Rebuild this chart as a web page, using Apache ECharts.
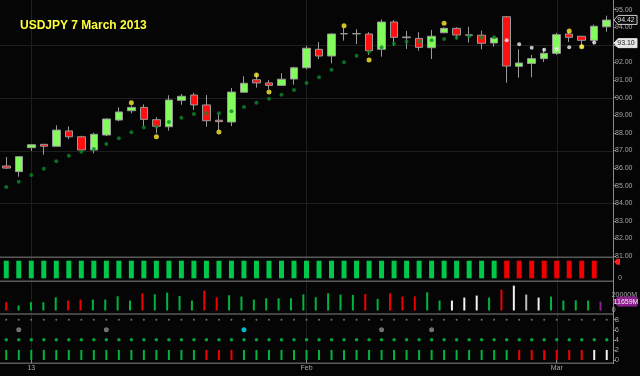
<!DOCTYPE html>
<html>
<head>
<meta charset="utf-8">
<script src="https://cdn.jsdelivr.net/npm/echarts/dist/echarts.min.js"></script>
<style>
html, body { margin: 0; padding: 0; background: #050505; }
#main { width: 640px; height: 376px; }
</style>
</head>
<body>
<div id="main"></div>
<script>
var dates = ['2012-12-28','2012-12-31',
    '2013-01-02','2013-01-03','2013-01-04','2013-01-07','2013-01-08','2013-01-09','2013-01-10','2013-01-11',
    '2013-01-14','2013-01-15','2013-01-16','2013-01-17','2013-01-18','2013-01-21','2013-01-22','2013-01-23',
    '2013-01-24','2013-01-25','2013-01-28','2013-01-29','2013-01-30','2013-01-31',
    '2013-02-01','2013-02-04','2013-02-05','2013-02-06','2013-02-07','2013-02-08','2013-02-11','2013-02-12',
    '2013-02-13','2013-02-14','2013-02-15','2013-02-18','2013-02-19','2013-02-20','2013-02-21','2013-02-22',
    '2013-02-25','2013-02-26','2013-02-27','2013-02-28',
    '2013-03-01','2013-03-04','2013-03-05','2013-03-06','2013-03-07'];

// x axis labels
var dateLabels = { '2013-01-02': '13', '2013-02-01': 'Feb', '2013-03-01': 'Mar' };

var opens  = [86.12, 85.80, 87.16, 87.35, 87.24, 88.11, 87.78, 87.03, 87.88, 88.73,
              89.26, 89.45, 88.75, 88.35, 89.85, 90.15, 89.59, 88.72, 88.62, 90.31,
              91.02, 90.84, 90.70, 91.06, 91.70, 92.75, 92.37, 93.64, 93.63, 93.62,
              92.75, 94.30, 93.45, 93.37, 92.84, 93.69, 93.94, 93.57, 93.55, 93.11,
              94.60, 91.78, 91.95, 92.22, 92.52, 93.62, 93.49, 93.26, 94.03];
var closes = [86.00, 86.65, 87.33, 87.24, 88.16, 87.78, 87.03, 87.92, 88.79, 89.19,
              89.45, 88.77, 88.38, 89.87, 90.08, 89.59, 88.69, 88.64, 90.32, 90.82,
              90.84, 90.70, 91.05, 91.70, 92.81, 92.37, 93.62, 93.63, 93.64, 92.67,
              94.30, 93.43, 93.41, 92.86, 93.49, 93.94, 93.56, 93.55, 93.09, 93.39,
              91.80, 91.97, 92.22, 92.52, 93.58, 93.43, 93.26, 94.06, 94.41];
var lows   = [85.95, 85.51, 86.97, 86.76, 87.20, 87.64, 86.95, 86.84, 87.82, 88.66,
              89.11, 88.35, 87.98, 88.13, 89.60, 89.30, 88.35, 88.16, 88.39, 90.28,
              90.57, 90.48, 90.66, 90.74, 91.61, 92.20, 91.95, 93.24, 93.05, 92.43,
              92.33, 92.94, 92.77, 92.67, 92.20, 93.67, 93.32, 93.13, 92.75, 92.90,
              90.85, 91.14, 91.16, 92.03, 92.43, 93.16, 92.99, 93.03, 93.75];
var highs  = [86.63, 86.67, 87.35, 87.37, 88.43, 88.37, 87.84, 88.01, 88.83, 89.45,
              89.55, 89.62, 88.89, 90.14, 90.21, 90.27, 90.15, 89.11, 90.55, 91.22,
              91.39, 91.00, 91.39, 91.76, 92.95, 93.16, 93.66, 93.98, 93.89, 93.72,
              94.45, 94.41, 93.79, 93.72, 93.85, 94.00, 94.00, 94.03, 93.81, 93.47,
              94.64, 92.75, 92.43, 92.81, 93.68, 93.75, 93.50, 94.15, 94.66];

// stop-and-reverse dots: green below price, white above
var sarLong  = [84.93, 85.23, 85.61, 85.97, 86.39, 86.70, 86.93, 87.09, 87.37, 87.69,
                88.03, 88.30, 88.35, 88.62, 88.86, 89.07, 89.11, 89.11, 89.23, 89.47,
                89.72, 89.94, 90.17, 90.44, 90.84, 91.16, 91.59, 92.01, 92.39, 92.61,
                92.86, 93.07, 93.18, 93.20, 93.26, 93.34, 93.41, 93.49, 93.41, 93.43,
                '-', '-', '-', '-', '-', '-', '-', '-', '-'];
var sarShort = ['-', '-', '-', '-', '-', '-', '-', '-', '-', '-',
                '-', '-', '-', '-', '-', '-', '-', '-', '-', '-',
                '-', '-', '-', '-', '-', '-', '-', '-', '-', '-',
                '-', '-', '-', '-', '-', '-', '-', '-', '-', '-',
                93.26, 93.03, 92.84, 92.73, 92.77, 92.86, 92.91, 93.13, '-'];
// yellow markers [day index, price]
var fractals = [[10, 89.72], [12, 87.78], [17, 88.05], [20, 91.29], [21, 90.32],
                [27, 94.09], [29, 92.14], [35, 94.23], [45, 93.79], [46, 92.90]];

var lastPrice = 94.42;
var refPrice = 93.10;
var gridPrices = [84, 87, 90, 93];

// trend panel: 1 up, -1 down
var trend = [1, 1, 1, 1, 1, 1, 1, 1, 1, 1, 1, 1, 1, 1, 1, 1, 1, 1, 1, 1,
             1, 1, 1, 1, 1, 1, 1, 1, 1, 1, 1, 1, 1, 1, 1, 1, 1, 1, 1, 1,
             -1, -1, -1, -1, -1, -1, -1, -1];

// volume in millions
var volume = [10800, 6500, 10800, 10800, 17300, 13000, 14300, 14300, 14300, 18600,
              13000, 22500, 21200, 23400, 19100, 13000, 26000, 17300, 19900, 18200,
              14300, 16000, 16000, 16000, 21200, 17300, 22500, 20800, 20400, 21700,
              15200, 22500, 18200, 18600, 23800, 13000, 13000, 16900, 19500, 16900,
              27300, 32500, 20800, 16900, 18200, 13000, 13400, 13000, 11659];
var volumeKind = 'rggggrrggggrggggrrgggggggggggrgrrrggwwwgrwlwggggp';
var lastVolume = 11659;

// bottom panel
var signalKind = 'ggggggggggggggggrrrggggggggggggggggggggggrrrrrrww';
var signalLevel = 2;
var dotLevels = [8, 4];
var eventLevel = 6;
var events = [[1, 'g'], [8, 'g'], [19, 'c'], [30, 'g'], [34, 'g']];

var colorMap = { g: '#00b53f', r: '#f00000', w: '#f2f2f2', l: '#bdbdbd', p: '#8e1f8e', c: '#00e5ff' };

var ohlc = dates.map(function (d, i) { return [opens[i], closes[i], lows[i], highs[i]]; });

var myChart = echarts.init(document.getElementById('main'));

var axisFont = { color: '#a8a8a8', fontSize: 7, fontFamily: 'Liberation Sans, Arial' };

function xAxisFor(idx, showLabels) {
    return {
        type: 'category', gridIndex: idx, data: dates, boundaryGap: true,
        axisLine: { show: false },
        axisTick: {
            show: showLabels, alignWithLabel: true, length: 3, lineStyle: { color: '#888' },
            interval: function (i, v) { return !!dateLabels[v]; }
        },
        axisLabel: {
            show: showLabels, margin: 5, color: '#a8a8a8', fontSize: 7,
            fontFamily: 'Liberation Sans, Arial',
            interval: function (i, v) { return !!dateLabels[v]; },
            formatter: function (v) { return dateLabels[v] || ''; }
        },
        splitLine: { show: false }
    };
}

function yAxisFor(idx, min, max, interval, fmt, ticks) {
    return {
        type: 'value', gridIndex: idx, position: 'right', min: min, max: max, interval: interval,
        axisLine: { show: false },
        axisTick: { show: ticks, length: 3, lineStyle: { color: '#888' } },
        axisLabel: Object.assign({ margin: ticks ? 2 : 5, formatter: fmt }, axisFont),
        splitLine: { show: false }
    };
}

var option = {
    backgroundColor: '#050505',
    animation: false,
    title: {
        text: 'USDJPY 7 March 2013',
        left: 15, top: 15,
        textStyle: { color: '#ffff3a', fontSize: 12, fontWeight: 'bold', fontFamily: 'Liberation Sans, Arial' }
    },
    grid: [
        { left: 0, right: 27, top: 9.7, height: 246.4 },
        { left: 0, right: 27, top: 260.7, height: 17.6 },
        { left: 0, right: 27, top: 284.5, height: 26 },
        { left: 0, right: 27, top: 319.7, height: 40.3 }
    ],
    xAxis: [xAxisFor(0, false), xAxisFor(1, false), xAxisFor(2, false), xAxisFor(3, true)],
    yAxis: [
        yAxisFor(0, 81, 95, 1, function (v) { return v.toFixed(2); }, true),
        yAxisFor(1, 0, 1, 1, function (v) { return v === 0 ? '0' : ''; }, false),
        yAxisFor(2, 0, 34000, 20000, function (v) { return v === 0 ? '0' : (v === 20000 ? '20000M' : ''); }, false),
        yAxisFor(3, 0, 8, 2, function (v) { return String(v); }, true)
    ],
    series: [
        {
            type: 'candlestick', xAxisIndex: 0, yAxisIndex: 0, barWidth: 8, data: ohlc,
            itemStyle: { color: '#84fb5c', color0: '#ff1010', borderColor: '#9a9a9a', borderColor0: '#9a9a9a', borderWidth: 1 }
        },
        {
            type: 'scatter', xAxisIndex: 0, yAxisIndex: 0, symbolSize: 4, data: sarLong,
            itemStyle: { color: '#0b8a2c' }, z: 5
        },
        {
            type: 'scatter', xAxisIndex: 0, yAxisIndex: 0, symbolSize: 4, data: sarShort,
            itemStyle: { color: '#f0f0f0' }, z: 5
        },
        {
            type: 'scatter', xAxisIndex: 0, yAxisIndex: 0, symbolSize: 5, data: fractals,
            itemStyle: { color: '#ffee33' }, z: 5
        },
        {
            type: 'bar', xAxisIndex: 1, yAxisIndex: 1, barWidth: 5,
            data: trend.map(function (t) {
                return { value: 1, itemStyle: { color: t > 0 ? '#00c84a' : '#f00000' } };
            })
        },
        {
            type: 'bar', xAxisIndex: 2, yAxisIndex: 2, barWidth: 2,
            data: volume.map(function (v, i) {
                return { value: v, itemStyle: { color: colorMap[volumeKind[i]] } };
            })
        },
        {
            type: 'bar', xAxisIndex: 3, yAxisIndex: 3, barWidth: 2,
            data: signalKind.split('').map(function (k) {
                return { value: signalLevel, itemStyle: { color: colorMap[k] } };
            })
        },
        {
            type: 'scatter', xAxisIndex: 3, yAxisIndex: 3, symbolSize: 2,
            data: signalKind.split('').map(function (k, i) { return [i, dotLevels[0]]; }),
            itemStyle: { color: '#8a8a8a' }
        },
        {
            type: 'scatter', xAxisIndex: 3, yAxisIndex: 3, symbolSize: 3.5,
            data: signalKind.split('').map(function (k, i) { return [i, dotLevels[1]]; }),
            itemStyle: { color: '#00c84a' }
        },
        {
            type: 'scatter', xAxisIndex: 3, yAxisIndex: 3, symbolSize: 5,
            data: events.map(function (e) {
                return { value: [e[0], eventLevel], itemStyle: { color: e[1] === 'c' ? colorMap.c : '#8c8c8c' } };
            })
        }
    ]
};

myChart.setOption(option);

// separators, grid lines and value tags
var axisX = 613;
var g = [];
[2, 24, 44].forEach(function (i) {
    var x = Math.round(myChart.convertToPixel({ xAxisIndex: 0 }, i)) + 0.5;
    g.push({ type: 'line', z: -1, shape: { x1: x, y1: 0, x2: x, y2: 363 }, style: { stroke: '#1e1e1e', lineWidth: 1 } });
});
gridPrices.forEach(function (p) {
    var y = Math.round(myChart.convertToPixel({ yAxisIndex: 0 }, p)) + 0.5;
    g.push({ type: 'line', z: -1, shape: { x1: 0, y1: y, x2: axisX, y2: y }, style: { stroke: '#1e1e1e', lineWidth: 1 } });
});
[257.3, 281.3, 314, 363.3].forEach(function (y) {
    g.push({ type: 'line', shape: { x1: 0, y1: y, x2: axisX, y2: y }, style: { stroke: '#5a5a5a', lineWidth: 1.5 } });
});
g.push({ type: 'line', shape: { x1: axisX + 0.5, y1: 0, x2: axisX + 0.5, y2: 364 }, style: { stroke: '#8a8a8a', lineWidth: 1 } });

function tag(y, text, fill, stroke, color) {
    g.push({
        type: 'polygon', z: 10,
        shape: { points: [[axisX + 1, y], [axisX + 5, y - 4.5], [637, y - 4.5], [637, y + 4.5], [axisX + 5, y + 4.5]] },
        style: { fill: fill, stroke: stroke, lineWidth: 1 }
    });
    g.push({
        type: 'text', z: 11, x: 626, y: y,
        style: { text: text, fill: color, fontSize: 7, fontFamily: 'Liberation Sans, Arial', align: 'center', verticalAlign: 'middle' }
    });
}
tag(myChart.convertToPixel({ yAxisIndex: 0 }, lastPrice), lastPrice.toFixed(2), '#0a0a0a', '#cfcfcf', '#dddddd');
tag(myChart.convertToPixel({ yAxisIndex: 0 }, refPrice), refPrice.toFixed(2), '#e6e6e6', '#e6e6e6', '#222222');
tag(myChart.convertToPixel({ yAxisIndex: 2 }, lastVolume), lastVolume + 'M', '#8e1f8e', '#8e1f8e', '#eeeeee');
var ty = myChart.convertToPixel({ yAxisIndex: 1 }, 1);
g.push({
    type: 'polygon', z: 10,
    shape: { points: [[axisX + 1, ty + 1], [axisX + 4, ty - 2], [axisX + 7, ty - 2], [axisX + 7, ty + 4], [axisX + 4, ty + 4]] },
    style: { fill: '#ff2020' }
});

myChart.setOption({ graphic: g });
</script>
</body>
</html>
